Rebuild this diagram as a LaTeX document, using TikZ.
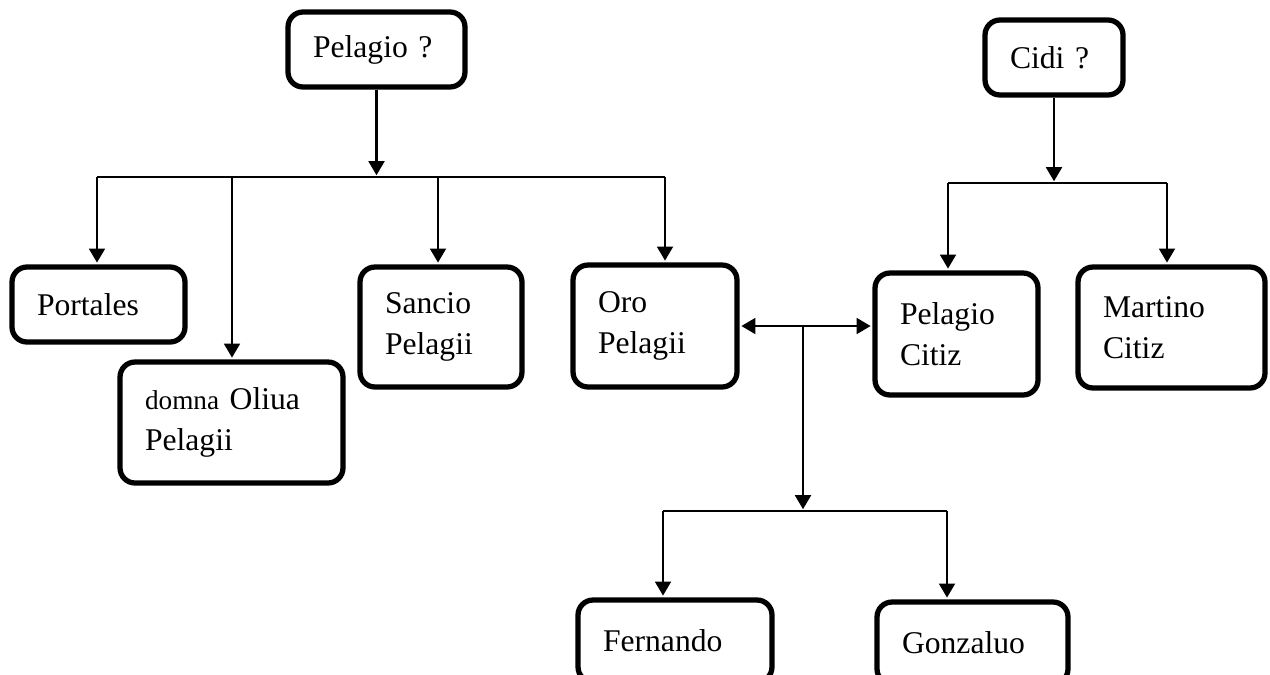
\documentclass[tikz,border=0pt]{standalone}
\usepackage{fontspec}
\setmainfont{Liberation Serif}
\usetikzlibrary {arrows.meta, calc}

\tikzset{
    person/.style = {draw, line width = 3pt, rounded corners = 0.3cm, align = left,
        inner xsep = 0.5cm, inner ysep = 0pt, text width = #1,
        font = \fontsize{18}{23}\selectfont},
    down/.style = {line width = 1.4pt, shorten > = 1pt, -{Triangle[length = 8pt, width = 9pt]}},
    both/.style = {line width = 1.4pt, shorten > = 1pt, shorten < = 1pt,
        {Triangle[length = 8pt, width = 9pt]}-{Triangle[length = 8pt, width = 9pt]}},
    bar/.style = {line width = 1pt}
}

\begin{document}
\begin{tikzpicture}[x = 0.02cm, y = -0.02cm]

        \clip (0,0) rectangle (1270,674);

%mark the people
        \node[person = 2.54cm, minimum height = 1.5cm] (PE) at (376.5,49.5) {Pelagio ?};
        \node[person = 1.76cm, minimum height = 1.5cm] (CI) at (1054,57.5) {Cidi ?};

        \node[person = 2.46cm, minimum height = 1.5cm] (PO) at (98.5,304.5) {Portales};
        \node[person = 3.46cm, minimum height = 2.42cm] (OL) at (231.5,422.5) {{\fontsize{15.5}{23}\selectfont domna} Oliua\\Pelagii};
        \node[person = 2.24cm, minimum height = 2.4cm] (SA) at (441,327) {Sancio\\Pelagii};
        \node[person = 2.28cm, minimum height = 2.44cm] (OR) at (655,326) {Oro\\Pelagii};
        \node[person = 2.26cm, minimum height = 2.44cm] (PC) at (956.5,334) {Pelagio\\Citiz};
        \node[person = 2.74cm, minimum height = 2.42cm] (MA) at (1171.5,327.5) {Martino\\Citiz};

        \node[person = 2.88cm, minimum height = 1.64cm] (FE) at (675,641) {Fernando};
        \node[person = 2.82cm, minimum height = 1.64cm] (GO) at (972.5,643) {Gonzaluo};

%children of Pelagio
        \coordinate (K1) at (97,177);
        \coordinate (K2) at (232,177);
        \coordinate (K3) at (438,177);
        \coordinate (K4) at (665,177);
        \draw[down] (PE.south) -- (PE.south |- K1);
        \draw[bar] (K1) -- (K4);
        \draw[down] (K1) -- (K1 |- PO.north);
        \draw[down] (K2) -- (K2 |- OL.north);
        \draw[down] (K3) -- (K3 |- SA.north);
        \draw[down] (K4) -- (K4 |- OR.north);

%children of Cidi
        \coordinate (L1) at (948,183);
        \coordinate (L2) at (1167,183);
        \draw[down] (CI.south) -- (CI.south |- L1);
        \draw[bar] (L1) -- (L2);
        \draw[down] (L1) -- (L1 |- PC.north);
        \draw[down] (L2) -- (L2 |- MA.north);

%marriage and its children
        \draw[both] (OR.east) -- (OR.east -| PC.west);
        \coordinate (M) at (803,326);
        \coordinate (N1) at (663,511);
        \coordinate (N2) at (947,511);
        \draw[down] (M) -- (M |- N1);
        \draw[bar] (N1) -- (N2);
        \draw[down] (N1) -- (N1 |- FE.north);
        \draw[down] (N2) -- (N2 |- GO.north);
\end{tikzpicture}
\end{document}
